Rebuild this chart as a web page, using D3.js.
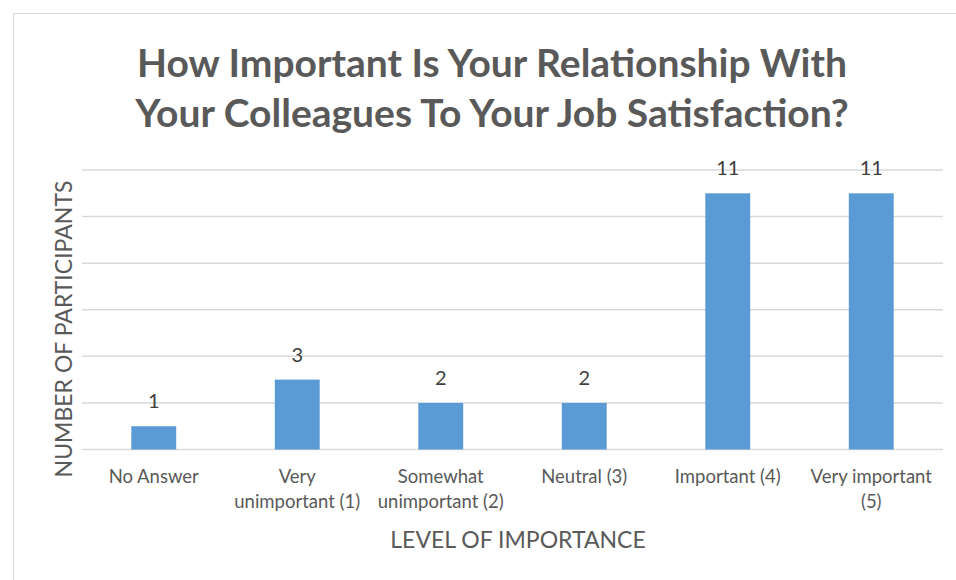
<!DOCTYPE html>
<html>
<head>
<meta charset="utf-8">
<script src="https://cdn.jsdelivr.net/npm/d3@7"></script>
<style>
  html, body { margin: 0; padding: 0; background: #fff; }
  svg { display: block; font-family: Lato, "Open Sans", sans-serif; }
</style>
</head>
<body>
<svg id="chart" width="956" height="580"></svg>
<script>
// Survey answers: how many participants chose each level of importance
const categories = [
  "No Answer",
  "Very\nunimportant (1)",
  "Somewhat\nunimportant (2)",
  "Neutral (3)",
  "Important (4)",
  "Very important\n(5)"
];
const participants = [1, 3, 2, 2, 11, 11];
const gridTicks = [0, 2, 4, 6, 8, 10, 12];
const titleLines = [
  "How Important Is Your Relationship With",
  "Your Colleagues To Your Job Satisfaction?"
];

const svg = d3.select("#chart");
const plot = { left: 82, right: 943, top: 170, bottom: 449.5 };

// chart frame
svg.append("rect")
  .attr("x", 13.5).attr("y", 13.5)
  .attr("width", 1000).attr("height", 1000)
  .attr("fill", "#fff").attr("stroke", "#d9d9d9");

const x = d3.scaleBand()
  .domain(categories)
  .range([plot.left, plot.right])
  .padding(0);

const y = d3.scaleLinear()
  .domain([0, 12])
  .range([plot.bottom, plot.top]);

const barWidth = x.bandwidth() * 0.313;

// horizontal gridlines
svg.append("g")
  .selectAll("line")
  .data(gridTicks)
  .join("line")
  .attr("x1", plot.left).attr("x2", plot.right)
  .attr("y1", d => y(d)).attr("y2", d => y(d))
  .attr("stroke", "#d9d9d9")
  .attr("stroke-width", 1.5);

// bars
svg.append("g")
  .selectAll("rect")
  .data(participants)
  .join("rect")
  .attr("x", (d, i) => x(categories[i]) + (x.bandwidth() - barWidth) / 2)
  .attr("y", d => y(d))
  .attr("width", barWidth)
  .attr("height", d => y(0) - y(d))
  .attr("fill", "#5b9bd5");

// value labels above each bar
svg.append("g")
  .selectAll("text")
  .data(participants)
  .join("text")
  .attr("x", (d, i) => x(categories[i]) + x.bandwidth() / 2)
  .attr("y", d => y(d) - 18)
  .attr("text-anchor", "middle")
  .attr("font-size", 20)
  .attr("fill", "#404040")
  .text(d => d);

// category labels (manually wrapped lines)
const catLabels = svg.append("g")
  .selectAll("text")
  .data(categories)
  .join("text")
  .attr("text-anchor", "middle")
  .attr("font-size", 18.5)
  .attr("fill", "#595959");
catLabels.each(function(d) {
  const t = d3.select(this);
  d.split("\n").forEach((line, k) => {
    t.append("tspan")
      .attr("x", x(d) + x.bandwidth() / 2)
      .attr("y", 483 + k * 24.5)
      .text(line);
  });
});

// title
svg.append("g")
  .selectAll("text")
  .data(titleLines)
  .join("text")
  .attr("x", 492)
  .attr("y", (d, i) => 77 + i * 49.5)
  .attr("text-anchor", "middle")
  .attr("font-size", 39)
  .attr("font-weight", 700)
  .attr("fill", "#595959")
  .text(d => d);

// axis titles
svg.append("text")
  .attr("x", 518).attr("y", 548)
  .attr("text-anchor", "middle")
  .attr("font-size", 23)
  .attr("fill", "#595959")
  .text("LEVEL OF IMPORTANCE");

svg.append("text")
  .attr("transform", "translate(72,329) rotate(-90)")
  .attr("text-anchor", "middle")
  .attr("font-size", 23)
  .attr("fill", "#595959")
  .text("NUMBER OF PARTICIPANTS");
</script>
</body>
</html>
